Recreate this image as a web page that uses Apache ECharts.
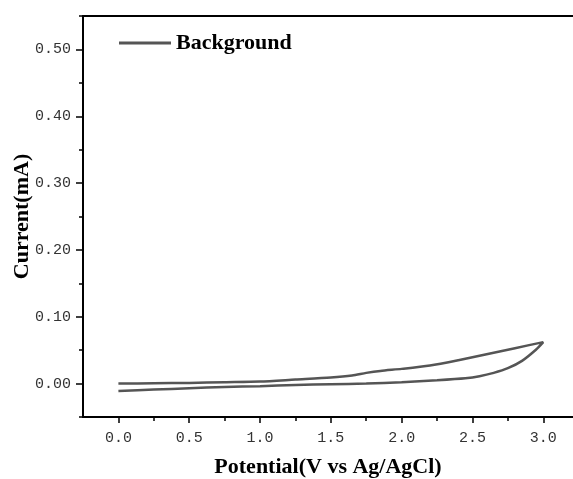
<!DOCTYPE html>
<html>
<head>
<meta charset="utf-8">
<style>html,body{margin:0;padding:0;background:#fff}</style>
</head>
<body>
<div id="cv" style="width:573px;height:479px;"></div>
<script type="text/javascript" src="https://cdn.jsdelivr.net/npm/echarts@6/dist/echarts.min.js"></script>
<script type="text/javascript">
// forward scan (lower branch)
var fwdX = [0.0, 0.25, 0.5, 0.75, 1.0, 1.25, 1.5, 1.75, 2.0, 2.25, 2.45, 2.55, 2.65, 2.75, 2.85, 2.95, 3.0];
var fwdY = [-0.011, -0.009, -0.007, -0.005, -0.004, -0.002, -0.001, 0.000, 0.002, 0.005, 0.008, 0.011, 0.016, 0.023, 0.034, 0.051, 0.062];
// reverse scan (upper branch)
var revX = [3.0, 2.8, 2.6, 2.4, 2.2, 2.0, 1.85, 1.75, 1.65, 1.5, 1.25, 1.0, 0.75, 0.5, 0.25, 0.0];
var revY = [0.062, 0.053, 0.044, 0.035, 0.027, 0.022, 0.019, 0.016, 0.012, 0.009, 0.006, 0.003, 0.002, 0.001, 0.0005, 0.000];

var xTicks = [0.0, 0.5, 1.0, 1.5, 2.0, 2.5, 3.0];
var xMinor = [0.25, 0.75, 1.25, 1.75, 2.25, 2.75];
var yTicks = [0.0, 0.1, 0.2, 0.3, 0.4, 0.5];
var yMinor = [-0.05, 0.05, 0.15, 0.25, 0.35, 0.45, 0.55];

var loop = [];
for (var i = 0; i < fwdX.length; i++) loop.push([fwdX[i], fwdY[i]]);
for (var j = 1; j < revX.length; j++) loop.push([revX[j], revY[j]]);

var labelFont = { fontFamily: 'Liberation Mono', fontSize: 15, color: '#333' };
var nameFont = { fontFamily: 'Liberation Serif', fontWeight: 'bold', fontSize: 22, color: '#000' };
var axisLn = { show: true, onZero: false, lineStyle: { color: '#000', width: 2 } };
var noLn = { show: false, onZero: false };

var myChart = echarts.init(document.getElementById('cv'));
var option = {
    animation: false,
    grid: { left: 83, top: 16, right: 0, bottom: 62, containLabel: false, outerBoundsMode: 'none' },
    legend: {
        left: 114, top: 27,
        icon: 'rect',
        itemWidth: 52, itemHeight: 3, itemGap: 6,
        textStyle: { fontFamily: 'Liberation Serif', fontWeight: 'bold', fontSize: 22, color: '#000' },
        data: ['Background']
    },
    xAxis: [{
        type: 'value', min: -0.25, max: 3.21, position: 'bottom',
        axisLine: axisLn,
        axisTick: { show: true, length: 6, customValues: xTicks, lineStyle: { color: '#000', width: 1.5 } },
        axisLabel: Object.assign({ margin: 14, customValues: xTicks, formatter: function (v) { return v.toFixed(1); } }, labelFont),
        splitLine: { show: false },
        name: 'Potential(V vs Ag/AgCl)', nameLocation: 'middle', nameGap: 39, nameMoveOverlap: false,
        nameTextStyle: nameFont
    }, {
        type: 'value', min: -0.25, max: 3.21, position: 'bottom', offset: 0,
        axisLine: noLn,
        axisTick: { show: true, length: 4, customValues: xMinor, lineStyle: { color: '#000', width: 1.5 } },
        axisLabel: { show: false },
        splitLine: { show: false }
    }, {
        type: 'value', min: -0.25, max: 3.21, position: 'top',
        axisLine: axisLn,
        axisTick: { show: false }, axisLabel: { show: false }, splitLine: { show: false }
    }],
    yAxis: [{
        type: 'value', min: -0.05, max: 0.55, position: 'left',
        axisLine: axisLn,
        axisTick: { show: true, length: 7, customValues: yTicks, lineStyle: { color: '#000', width: 1.5 } },
        axisLabel: Object.assign({ margin: 12, customValues: yTicks, formatter: function (v) { return v.toFixed(2); } }, labelFont),
        splitLine: { show: false },
        name: 'Current(mA)', nameLocation: 'middle', nameGap: 50, nameMoveOverlap: false,
        nameTextStyle: nameFont
    }, {
        type: 'value', min: -0.05, max: 0.55, position: 'left', offset: 0,
        axisLine: noLn,
        axisTick: { show: true, length: 4, customValues: yMinor, lineStyle: { color: '#000', width: 1.5 } },
        axisLabel: { show: false },
        splitLine: { show: false }
    }],
    series: [{
        name: 'Background',
        type: 'line',
        xAxisIndex: 0, yAxisIndex: 0,
        data: loop,
        symbol: 'none',
        smooth: 0.25,
        lineStyle: { color: '#555', width: 2.5 },
        itemStyle: { color: '#555' }
    }]
};
myChart.setOption(option);
</script>
</body>
</html>
